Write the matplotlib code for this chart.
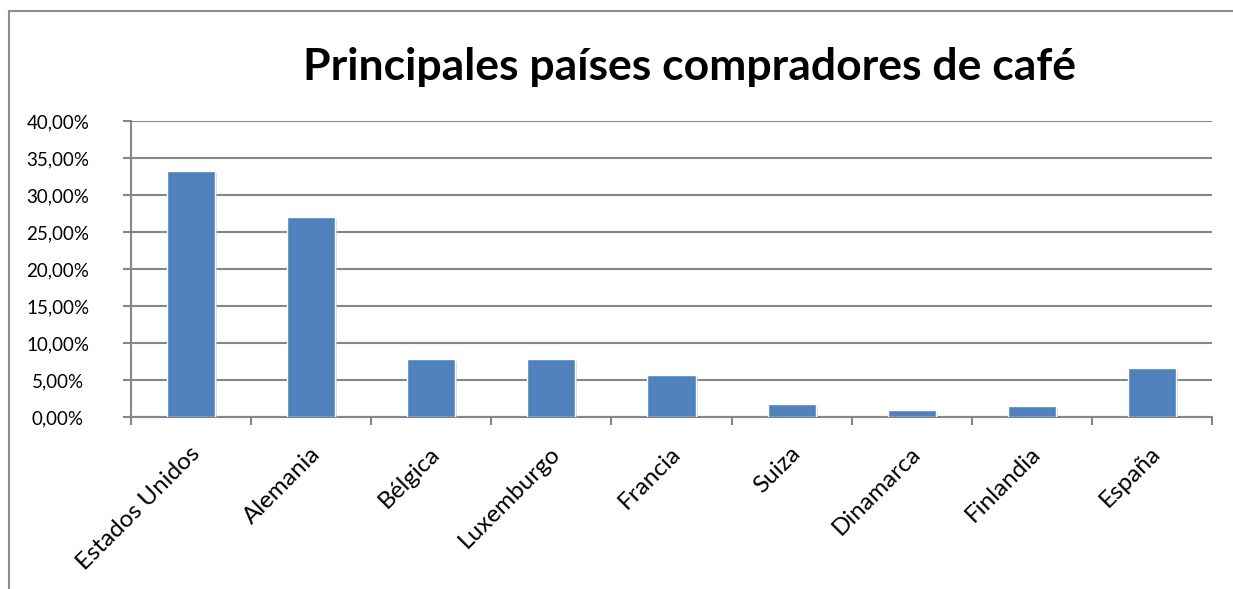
import numpy as np
import matplotlib
matplotlib.use("Agg")
import matplotlib.pyplot as plt
import matplotlib.patheffects as pe
from matplotlib.lines import Line2D
from matplotlib.ticker import FixedLocator

# data (share of purchases, %)
paises = ["Estados Unidos", "Alemania", "Bélgica", "Luxemburgo", "Francia",
          "Suiza", "Dinamarca", "Finlandia", "España"]
porcentajes = [33.3, 27.0, 7.8, 7.8, 5.7, 1.8, 0.9, 1.5, 6.6]
y_ticks = [0, 5, 10, 15, 20, 25, 30, 35, 40]
titulo = "Principales países compradores de café"

plt.rcParams["font.family"] = ["Lato", "DejaVu Sans"]

W, H = 1233, 589
fig = plt.figure(figsize=(W / 100, H / 100), dpi=100)
ax = fig.add_axes([131 / W, 1 - 417 / H, (1212 - 131) / W, (417 - 121) / H])

x = np.arange(len(paises))
ax.bar(x, porcentajes, width=0.4, color="#4F81BD", edgecolor="white", linewidth=1.0,
       zorder=3,
       path_effects=[pe.SimplePatchShadow(offset=(1.5, -1.5), shadow_rgbFace="#b0b0b0", alpha=0.5),
                     pe.Normal()])

ax.set_xlim(-0.5, len(paises) - 0.5)
ax.set_ylim(0, 40)

# y axis: gridlines + percentage labels with comma decimals
ax.set_yticks(y_ticks)
ax.set_yticklabels([f"{v:.2f}%".replace(".", ",") for v in y_ticks], ha="center", fontsize=13.5)
ax.grid(axis="y", color="#868686", linewidth=1.5, zorder=0)
ax.tick_params(axis="y", length=5.8, width=1.5, color="#868686", pad=46.8)

# x axis: ticks at category boundaries, labels (slightly right of centre, like Excel)
ax.set_xticks(x + 0.045)
ax.set_xticklabels(paises, rotation=45, ha="right", va="center",
                   rotation_mode="anchor", fontsize=17.5)
ax.xaxis.set_minor_locator(FixedLocator(np.arange(-0.5, len(paises), 1.0)))
ax.tick_params(axis="x", which="major", length=0, pad=24)
ax.tick_params(axis="x", which="minor", length=5.8, width=1.5, color="#868686")

for side in ["top", "right"]:
    ax.spines[side].set_visible(False)
for side in ["left", "bottom"]:
    ax.spines[side].set_color("#868686")
    ax.spines[side].set_linewidth(1.5)

fig.text(689.5 / W, 1 - 80 / H, titulo, fontsize=32, fontweight="bold",
         ha="center", va="baseline")

# chart-area border (top and left visible)
fig.add_artist(Line2D([9 / W, 1], [1 - 11 / H] * 2, color="#8c8c8c", linewidth=1.5))
fig.add_artist(Line2D([9 / W] * 2, [0, 1 - 11 / H], color="#8c8c8c", linewidth=1.5))

fig.savefig("out.png", dpi=100)
